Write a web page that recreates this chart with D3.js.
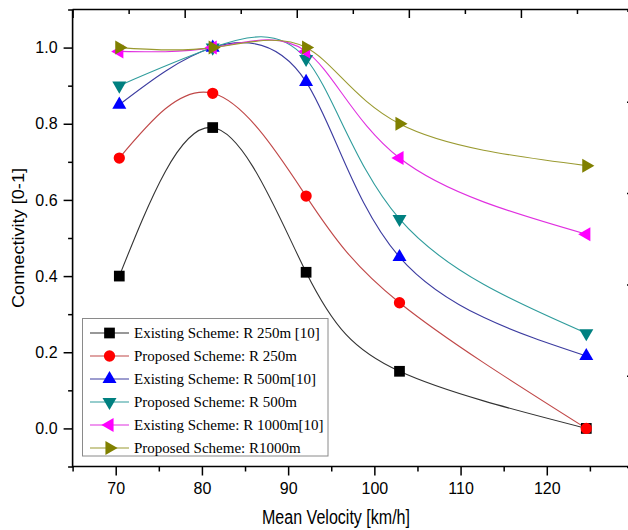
<!DOCTYPE html>
<html>
<head>
  <meta charset="utf-8">
  <title>Connectivity vs Mean Velocity</title>
  <script src="https://d3js.org/d3.v7.min.js"></script>
  <style>
    body { margin: 0; background: #fff; }
    svg { display: block; }
  </style>
</head>
<body>
<div id="vis"></div>
<script>
  // data
  var velocities = [70, 80, 90, 100, 120];
  var seriesNames = [
    "Existing Scheme: R 250m [10]",
    "Proposed Scheme: R 250m",
    "Existing Scheme: R 500m[10]",
    "Proposed Scheme: R 500m",
    "Existing Scheme: R 1000m[10]",
    "Proposed Scheme: R1000m"
  ];
  var existing250 = [0.40, 0.79, 0.41, 0.15, 0.00];
  var proposed250 = [0.71, 0.88, 0.61, 0.33, 0.00];
  var existing500 = [0.85, 1.00, 0.91, 0.45, 0.19];
  var proposed500 = [0.90, 1.00, 0.97, 0.55, 0.25];
  var existing1000 = [0.99, 1.00, 0.99, 0.71, 0.51];
  var proposed1000 = [1.00, 1.00, 1.00, 0.80, 0.69];
  var xTickValues = [70, 80, 90, 100, 110, 120];
  var yTickValues = [0.0, 0.2, 0.4, 0.6, 0.8, 1.0];

  var markerColors = ["#000000", "#ff0000", "#0000ff", "#008080", "#ff00ff", "#808000"];
  var lineColors = ["#333333", "#c04848", "#3c3ca0", "#2f9c9c", "#e030e0", "#9a9a30"];
  var symbolTypes = [d3.symbolSquare, d3.symbolCircle, d3.symbolTriangle, d3.symbolTriangle, d3.symbolTriangle, d3.symbolTriangle];
  var symbolRotate = [0, 0, 0, 180, -90, 90];
  var symbolSizes = [115, 100, 85, 85, 85, 85];

  var allSeries = [existing250, proposed250, existing500, proposed500, existing1000, proposed1000];

  var width = 628, height = 530;
  var plotLeft = 72.6, plotRight = 633, plotTop = 9.5, plotBottom = 466.5;

  var svg = d3.select("#vis").append("svg")
      .attr("width", width)
      .attr("height", height);

  // the data layer and the axis layer do not line up in the original figure
  var x = d3.scaleLinear().domain([65, 125]).range([plotLeft, plotRight]);
  var xAxisScale = d3.scaleLinear().domain([65, 130]).range([plotLeft, plotRight]);
  var y = d3.scaleLinear().domain([-0.1, 1.1]).range([plotBottom, plotTop]);
  var yRight = d3.scaleLinear().domain([0, 5]).range([plotBottom + 0.5, plotTop + 1]);

  // curves
  var line = d3.line()
      .x(function(d) { return x(d.v); })
      .y(function(d) { return y(d.c); })
      .curve(d3.curveNatural);

  var seriesData = allSeries.map(function(s, i) {
    return { idx: i, name: seriesNames[i], points: s.map(function(c, j) { return { v: velocities[j], c: c }; }) };
  });

  var plot = svg.append("g");

  plot.selectAll("path.curve")
    .data(seriesData)
    .enter()
    .append("path")
      .attr("class", "curve")
      .attr("fill", "none")
      .attr("stroke", function(d) { return lineColors[d.idx]; })
      .attr("stroke-width", 1.1)
      .attr("d", function(d) { return line(d.points); });

  // markers
  seriesData.forEach(function(s) {
    plot.append("g").selectAll("path")
      .data(s.points)
      .enter()
      .append("path")
        .attr("d", d3.symbol().type(symbolTypes[s.idx]).size(symbolSizes[s.idx]))
        .attr("fill", markerColors[s.idx])
        .attr("transform", function(d) {
          return "translate(" + x(d.v) + "," + y(d.c) + ") rotate(" + symbolRotate[s.idx] + ")";
        });
  });

  // frame lines
  var frame = svg.append("g").attr("stroke", "#000").attr("stroke-width", 1.6);
  frame.append("line").attr("x1", plotLeft).attr("x2", plotRight + 5).attr("y1", plotTop).attr("y2", plotTop);
  frame.append("line").attr("x1", plotLeft).attr("x2", plotRight + 5).attr("y1", plotBottom).attr("y2", plotBottom);
  frame.append("line").attr("x1", plotLeft).attr("x2", plotLeft).attr("y1", plotTop).attr("y2", plotBottom + 1);
  frame.append("line").attr("x1", plotRight).attr("x2", plotRight).attr("y1", plotTop).attr("y2", plotBottom);

  // bottom axis
  var xMinor = d3.range(65, 131, 5).filter(function(v) { return v % 10 !== 0; });
  var xAxis = svg.append("g").attr("transform", "translate(0," + plotBottom + ")");
  xAxis.append("g")
    .call(d3.axisBottom(xAxisScale).tickValues(xTickValues).tickSize(9).tickPadding(7).tickFormat(d3.format("d")))
    .call(function(g) { g.select(".domain").remove(); });
  xAxis.append("g")
    .call(d3.axisBottom(xAxisScale).tickValues(xMinor).tickSize(5).tickFormat(""))
    .call(function(g) { g.select(".domain").remove(); });

  // left axis
  var yMinor = [-0.1, 0.1, 0.3, 0.5, 0.7, 0.9, 1.1];
  var yAxis = svg.append("g").attr("transform", "translate(" + plotLeft + ",0)");
  yAxis.append("g")
    .call(d3.axisLeft(y).tickValues(yTickValues).tickSize(9).tickPadding(6).tickFormat(d3.format(".1f")))
    .call(function(g) { g.select(".domain").remove(); });
  yAxis.append("g")
    .call(d3.axisLeft(y).tickValues(yMinor).tickSize(4.5).tickFormat(""))
    .call(function(g) { g.select(".domain").remove(); });

  // top axis ticks (inward)
  var topTicks = d3.range(65, 126, 6);
  svg.append("g")
    .attr("transform", "translate(0," + plotTop + ")")
    .call(d3.axisBottom(x).tickValues(topTicks).tickSize(0).tickFormat(""))
    .call(function(g) { g.select(".domain").remove(); })
    .selectAll(".tick line")
      .attr("y2", function(d, i) { return i % 2 === 0 ? 8.5 : 4.5; });

  // right axis ticks (inward)
  svg.append("g")
    .attr("transform", "translate(" + plotRight + ",0)")
    .call(d3.axisLeft(yRight).tickValues(d3.range(0, 6)).tickSize(6).tickFormat(""))
    .call(function(g) { g.select(".domain").remove(); });

  svg.selectAll(".tick line").attr("stroke", "#000").attr("stroke-width", 1.5);
  svg.selectAll(".tick text")
    .attr("fill", "#000")
    .style("font-family", "'Liberation Sans', Arial, sans-serif")
    .style("font-size", "16px");

  // axis titles
  svg.append("text")
    .attr("x", 336)
    .attr("y", 524)
    .attr("text-anchor", "middle")
    .attr("textLength", 148)
    .attr("lengthAdjust", "spacingAndGlyphs")
    .style("font-family", "'Liberation Sans', Arial, sans-serif")
    .style("font-size", "20px")
    .text("Mean Velocity [km/h]");

  svg.append("text")
    .attr("transform", "translate(24," + ((plotTop + plotBottom) / 2) + ") rotate(-90)")
    .attr("text-anchor", "middle")
    .attr("textLength", 140)
    .attr("lengthAdjust", "spacingAndGlyphs")
    .style("font-family", "'Liberation Sans', Arial, sans-serif")
    .style("font-size", "17px")
    .text("Connectivity [0-1]");

  // legend
  var legend = svg.append("g");
  legend.append("rect")
    .attr("x", 82.5).attr("y", 318.5)
    .attr("width", 245.5).attr("height", 137.5)
    .attr("fill", "#fff")
    .attr("stroke", "#8a8a8a")
    .attr("stroke-width", 1);

  var rows = legend.selectAll("g.row")
    .data(seriesData)
    .enter()
    .append("g")
      .attr("class", "row")
      .attr("transform", function(d, i) { return "translate(0," + (333 + i * 23) + ")"; });

  rows.append("line")
    .attr("x1", 90).attr("x2", 129)
    .attr("stroke", function(d) { return lineColors[d.idx]; })
    .attr("stroke-width", 1.1);

  rows.append("path")
    .attr("d", function(d) { return d3.symbol().type(symbolTypes[d.idx]).size(symbolSizes[d.idx])(); })
    .attr("fill", function(d) { return markerColors[d.idx]; })
    .attr("transform", function(d) { return "translate(109.5,0) rotate(" + symbolRotate[d.idx] + ")"; });

  rows.append("text")
    .attr("x", 134)
    .attr("dy", "0.35em")
    .style("font-family", "'Liberation Serif', 'Times New Roman', serif")
    .style("font-size", "15px")
    .text(function(d) { return d.name; });
</script>
</body>
</html>
